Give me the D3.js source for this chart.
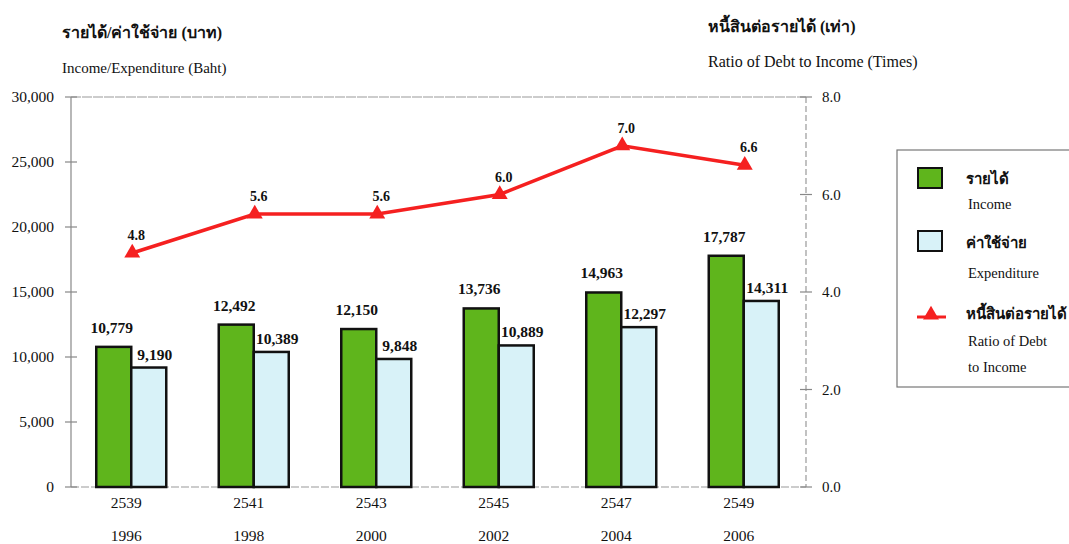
<!DOCTYPE html>
<html><head><meta charset="utf-8">
<script src="https://cdn.jsdelivr.net/npm/d3@7"></script>
<style>
body{margin:0;background:#fff;}
text{font-family:"Liberation Serif","DejaVu Serif",serif;fill:#111;}
</style></head>
<body><svg id="c" width="1069" height="544"></svg>
<script>
const yearsBE = ["2539","2541","2543","2545","2547","2549"];
const yearsAD = ["1996","1998","2000","2002","2004","2006"];
const income = [10779, 12492, 12150, 13736, 14963, 17787];
const expenditure = [9190, 10389, 9848, 10889, 12297, 14311];
const ratio = [4.8, 5.6, 5.6, 6.0, 7.0, 6.6];
const leftTicks = [0, 5000, 10000, 15000, 20000, 25000, 30000];
const rightTicks = [0, 2, 4, 6, 8];

const svg = d3.select("#c");
const L = 71, R = 806, T = 97, B = 487;
const x0 = d3.scaleBand().domain(yearsBE).range([L, R]).padding(0);
const bw = x0.bandwidth();
const x1 = d3.scaleBand().domain(["inc","exp"]).range([bw/2 - 36, bw/2 + 34]).padding(0);
const yL = d3.scaleLinear().domain([0, 30000]).range([B, T]);
const yR = d3.scaleLinear().domain([0, 8]).range([B, T]);
const fmt = d3.format(",");

// frame
svg.append("line").attr("x1", L).attr("x2", R).attr("y1", T).attr("y2", T)
  .attr("stroke", "#999").attr("stroke-width", 1.2).attr("stroke-dasharray", "10,1");
svg.append("line").attr("x1", L).attr("x2", R).attr("y1", B).attr("y2", B)
  .attr("stroke", "#999").attr("stroke-width", 1.2).attr("stroke-dasharray", "8,2");
svg.append("line").attr("x1", L).attr("x2", L).attr("y1", T).attr("y2", B)
  .attr("stroke", "#888").attr("stroke-width", 1.2);
svg.append("line").attr("x1", R).attr("x2", R).attr("y1", T).attr("y2", B)
  .attr("stroke", "#999").attr("stroke-width", 1.2).attr("stroke-dasharray", "6,3");

// left ticks
const lt = svg.append("g");
lt.selectAll("line").data(leftTicks).join("line")
  .attr("x1", L - 6).attr("x2", L + 6).attr("y1", d => yL(d)).attr("y2", d => yL(d))
  .attr("stroke", "#888").attr("stroke-width", 1.2);
lt.selectAll("text").data(leftTicks).join("text")
  .attr("x", 54).attr("y", d => yL(d) + 5).attr("text-anchor", "end")
  .attr("font-size", 15.5).text(d => d === 0 ? "0" : fmt(d));

// right ticks
const rt = svg.append("g");
rt.selectAll("line").data(rightTicks).join("line")
  .attr("x1", R - 6).attr("x2", R + 6).attr("y1", d => yR(d)).attr("y2", d => yR(d))
  .attr("stroke", "#888").attr("stroke-width", 1.2);
rt.selectAll("text").data(rightTicks).join("text")
  .attr("x", 822).attr("y", d => yR(d) + 5).attr("text-anchor", "start")
  .attr("font-size", 15).text(d => d.toFixed(1));

// bars
const groups = svg.append("g").selectAll("g").data(yearsBE).join("g")
  .attr("transform", d => `translate(${x0(d)},0)`);
groups.append("rect").attr("x", x1("inc")).attr("width", x1.bandwidth())
  .attr("y", (d, i) => yL(income[i])).attr("height", (d, i) => B - yL(income[i]))
  .attr("fill", "#5fb51c").attr("stroke", "#111").attr("stroke-width", 2.5);
groups.append("rect").attr("x", x1("exp")).attr("width", x1.bandwidth())
  .attr("y", (d, i) => yL(expenditure[i])).attr("height", (d, i) => B - yL(expenditure[i]))
  .attr("fill", "#d8f2f8").attr("stroke", "#111").attr("stroke-width", 2.5);
groups.append("text").attr("x", x1("inc") + x1.bandwidth()/2 - 2)
  .attr("y", (d, i) => yL(income[i]) - 14).attr("text-anchor", "middle")
  .attr("font-size", 15.5).attr("font-weight", "bold").text((d, i) => fmt(income[i]));
groups.append("text").attr("x", x1("exp") + x1.bandwidth()/2 + 6)
  .attr("y", (d, i) => yL(expenditure[i]) - 8).attr("text-anchor", "middle")
  .attr("font-size", 15.5).attr("font-weight", "bold").text((d, i) => fmt(expenditure[i]));

// category labels
groups.append("text").attr("x", bw/2 - 6).attr("y", 508).attr("text-anchor", "middle")
  .attr("font-size", 15.5).text(d => d);
groups.append("text").attr("x", bw/2 - 6).attr("y", 541).attr("text-anchor", "middle")
  .attr("font-size", 15.5).text((d, i) => yearsAD[i]);

// line
const cx = d => x0(d) + bw/2;
const line = d3.line().x((d, i) => cx(yearsBE[i])).y(d => yR(d));
svg.append("path").datum(ratio).attr("d", line).attr("fill", "none")
  .attr("stroke", "#f52020").attr("stroke-width", 3.5);
const tri = d3.symbol().type(d3.symbolTriangle).size(110);
svg.append("g").selectAll("path").data(ratio).join("path")
  .attr("d", tri).attr("fill", "#f52020")
  .attr("transform", (d, i) => `translate(${cx(yearsBE[i])},${yR(d)})`);
svg.append("g").selectAll("text").data(ratio).join("text")
  .attr("x", (d, i) => cx(yearsBE[i]) + 4).attr("y", d => yR(d) - 13)
  .attr("text-anchor", "middle").attr("font-size", 14).attr("font-weight", "bold")
  .text(d => d.toFixed(1));

// titles
svg.append("text").attr("x", 62).attr("y", 38).attr("font-size", 16).attr("font-weight", "bold").text("รายได้/ค่าใช้จ่าย (บาท)");
svg.append("text").attr("x", 62).attr("y", 73).attr("font-size", 15).text("Income/Expenditure (Baht)");
svg.append("text").attr("x", 708).attr("y", 32).attr("font-size", 16).attr("font-weight", "bold").text("หนี้สินต่อรายได้ (เท่า)");
svg.append("text").attr("x", 708).attr("y", 67).attr("font-size", 16).text("Ratio of Debt to Income (Times)");

// legend
const lg = svg.append("g");
lg.append("rect").attr("x", 897).attr("y", 150).attr("width", 190).attr("height", 237)
  .attr("fill", "#fff").attr("stroke", "#777").attr("stroke-width", 1.2);
lg.append("rect").attr("x", 918).attr("y", 168).attr("width", 24).attr("height", 20)
  .attr("fill", "#5fb51c").attr("stroke", "#111").attr("stroke-width", 2);
lg.append("rect").attr("x", 918).attr("y", 231).attr("width", 24).attr("height", 20)
  .attr("fill", "#d8f2f8").attr("stroke", "#111").attr("stroke-width", 2);
lg.append("line").attr("x1", 917).attr("x2", 946).attr("y1", 317).attr("y2", 317)
  .attr("stroke", "#f52020").attr("stroke-width", 3);
lg.append("path").attr("d", tri).attr("fill", "#f52020").attr("transform", "translate(931,315)");
const lt2 = [
  ["รายได้", 966, 184, true], ["Income", 968, 209, false],
  ["ค่าใช้จ่าย", 966, 248, true], ["Expenditure", 968, 278, false],
  ["หนี้สินต่อรายได้", 966, 319, true], ["Ratio of Debt", 968, 346, false], ["to Income", 968, 372, false]
];
lg.selectAll("text.l").data(lt2).join("text").attr("class", "l")
  .attr("x", d => d[1]).attr("y", d => d[2]).attr("font-size", d => d[3] ? 15 : 14.5)
  .attr("font-weight", d => d[3] ? "bold" : "normal").text(d => d[0]);
</script></body></html>
